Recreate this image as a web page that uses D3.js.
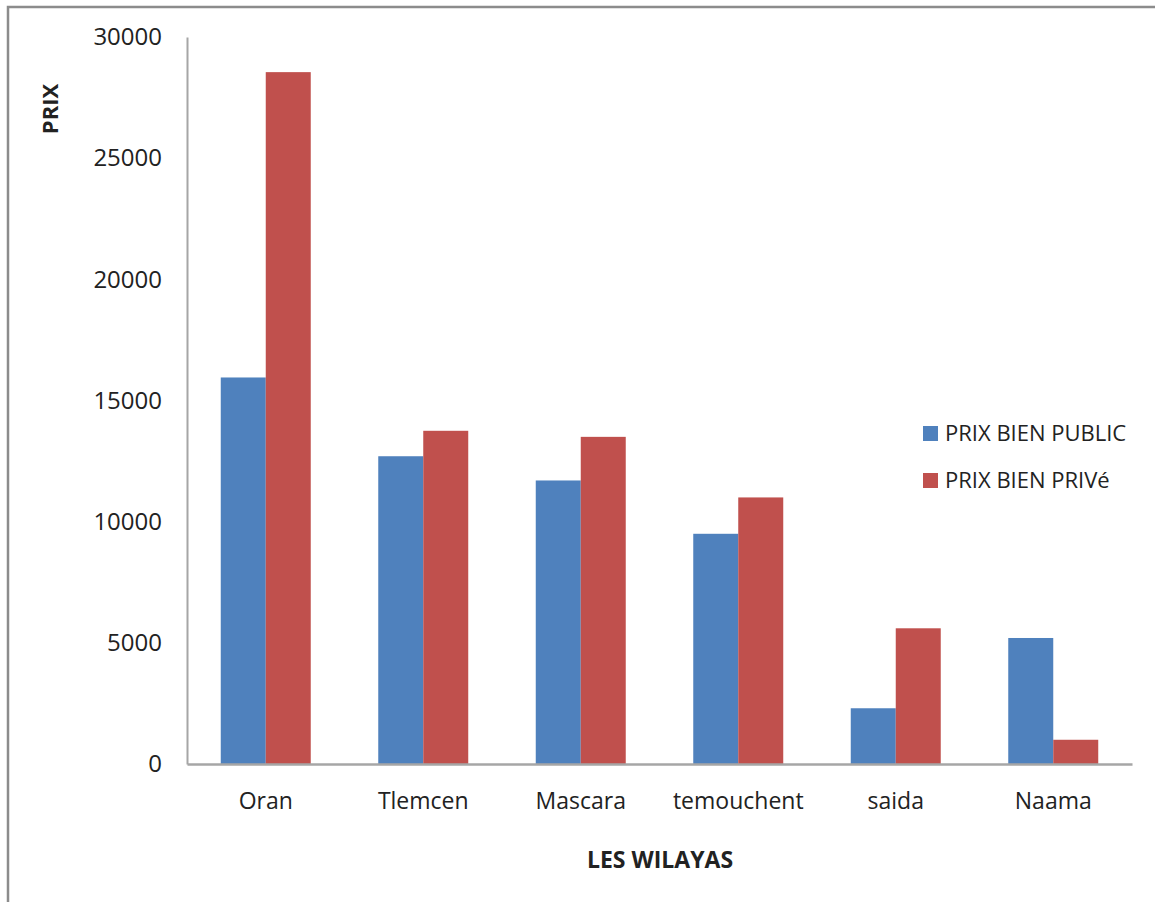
<!DOCTYPE html>
<html>
<head>
<meta charset="utf-8">
<script src="https://cdn.jsdelivr.net/npm/d3@7"></script>
<style>
  html, body { margin: 0; padding: 0; background: #fff; }
  svg { display: block; }
  text { font-family: "Open Sans", "DejaVu Sans", sans-serif; fill: #222; }
</style>
</head>
<body>
<svg id="chart" width="1155" height="902"></svg>
<script>
// Wilayas and their average prices (public vs private property)
const categories = ["Oran", "Tlemcen", "Mascara", "temouchent", "saida", "Naama"];
const prixPublic = [15950, 12700, 11700, 9500, 2300, 5200];
const prixPrive  = [28550, 13750, 13500, 11000, 5600, 1000];
const seriesNames = ["PRIX BIEN PUBLIC", "PRIX BIEN PRIVé"];
const seriesColors = ["#4F81BD", "#C0504D"];
const yTicks = [0, 5000, 10000, 15000, 20000, 25000, 30000];

const svg = d3.select("#chart");

// outer frame
svg.append("path")
  .attr("d", "M8,1000 L8,7 L1200,7")
  .attr("fill", "none")
  .attr("stroke", "#8c8c8c")
  .attr("stroke-width", 2.5);

const plot = { left: 187, right: 1132, top: 37, bottom: 764 };

const x = d3.scaleBand()
  .domain(categories)
  .range([plot.left, plot.right])
  .paddingInner(0.4286)
  .paddingOuter(0.2143);

const xSub = d3.scaleBand()
  .domain(d3.range(seriesNames.length))
  .range([0, x.bandwidth()]);

const y = d3.scaleLinear()
  .domain([0, 30000])
  .range([plot.bottom, plot.top]);

const rows = categories.map((c, i) => ({ cat: c, values: [prixPublic[i], prixPrive[i]] }));

// bars
const groups = svg.append("g").selectAll("g")
  .data(rows).join("g")
  .attr("transform", d => `translate(${x(d.cat)},0)`);

groups.selectAll("rect")
  .data(d => d.values.map((v, s) => ({ v, s })))
  .join("rect")
  .attr("x", d => xSub(d.s))
  .attr("width", xSub.bandwidth())
  .attr("y", d => y(d.v))
  .attr("height", d => y(0) - y(d.v))
  .attr("fill", d => seriesColors[d.s]);

// y axis
const yAxis = d3.axisLeft(y).tickValues(yTicks).tickSize(0).tickPadding(25).tickFormat(d3.format("d"));
const gy = svg.append("g").attr("transform", `translate(${plot.left},0)`).call(yAxis);
gy.select(".domain").attr("stroke", "#a6a6a6").attr("stroke-width", 2);
gy.selectAll("text").attr("font-size", 24).attr("fill", "#222")
  .style("font-family", "'Open Sans', sans-serif");

// x axis
const xAxis = d3.axisBottom(x).tickSize(0).tickPadding(29);
const gx = svg.append("g").attr("transform", `translate(0,${plot.bottom})`).call(xAxis);
gx.select(".domain").attr("stroke", "#a6a6a6").attr("stroke-width", 2.5);
gx.selectAll("text").attr("font-size", 23).attr("fill", "#222")
  .style("font-family", "'Open Sans', sans-serif");

// axis titles
svg.append("text")
  .attr("x", 660).attr("y", 868)
  .attr("text-anchor", "middle")
  .attr("font-size", 23).attr("font-weight", "bold")
  .text("LES WILAYAS");

svg.append("text")
  .attr("transform", "translate(58,109) rotate(-90)")
  .attr("text-anchor", "middle")
  .attr("font-size", 22).attr("font-weight", "bold")
  .text("PRIX");

// legend
const legend = svg.append("g").attr("transform", "translate(923,426)");
const items = legend.selectAll("g").data(seriesNames).join("g")
  .attr("transform", (d, i) => `translate(0,${i * 47})`);
items.append("rect")
  .attr("width", 15).attr("height", 15)
  .attr("fill", (d, i) => seriesColors[i]);
items.append("text")
  .attr("x", 22).attr("y", 15)
  .attr("font-size", 22)
  .text(d => d);
</script>
</body>
</html>
